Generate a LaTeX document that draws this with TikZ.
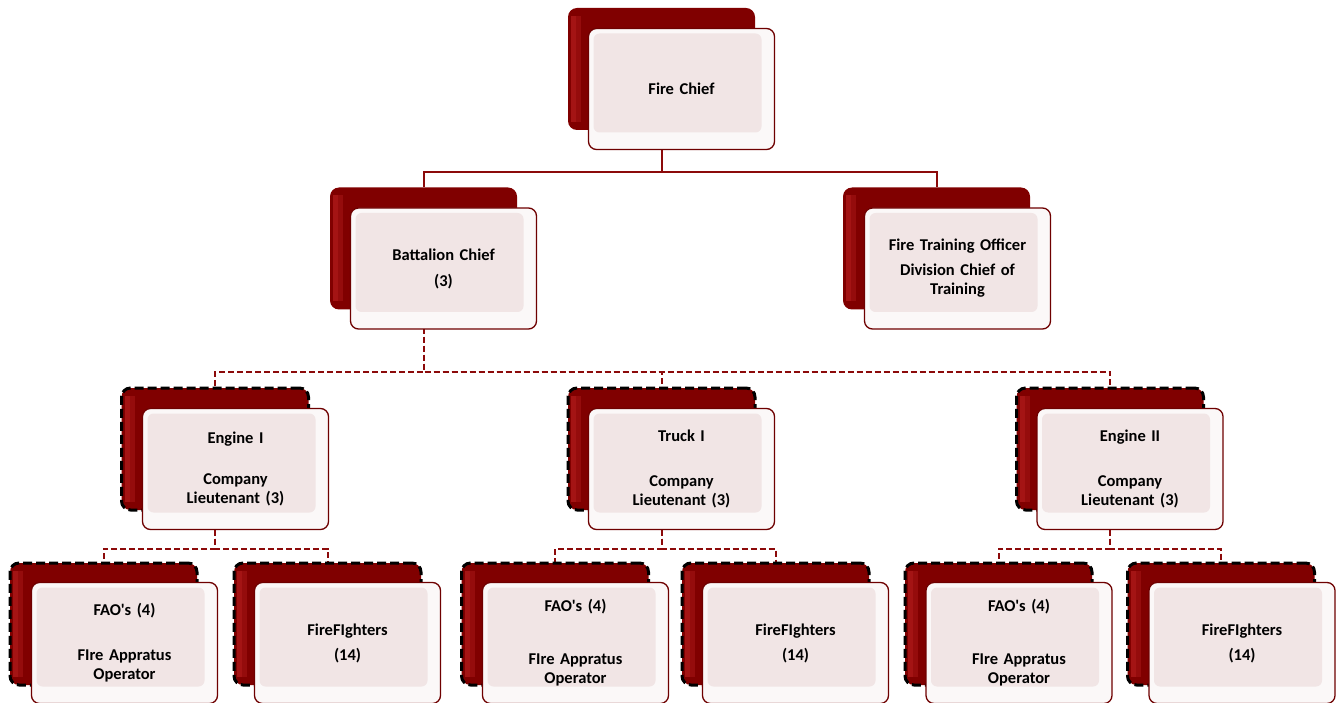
\documentclass[tikz,border=0pt]{standalone}
\usepackage{fontspec}
\setmainfont{Carlito}[Ligatures=TeXOff]
\usepackage{tikz}
\usetikzlibrary{backgrounds}
\definecolor{boxred}{RGB}{128, 0, 0}
\definecolor{boxglow}{RGB}{200, 40, 40}
\definecolor{rimred}{RGB}{110, 0, 0}
\definecolor{rimwhite}{RGB}{251, 248, 248}
\definecolor{facepink}{RGB}{241, 229, 229}
\definecolor{linkred}{RGB}{140, 10, 10}
\tikzset{every picture/.style={line width=0.75pt}}
\tikzset{
  backbox/.style={fill=boxred, rounded corners=9pt, minimum width=187pt, minimum height=122pt, inner sep=0pt,
    path picture={
      \fill[boxglow, opacity=0.3, sharp corners] ([xshift=3pt,yshift=8pt]path picture bounding box.south west) rectangle ([xshift=13pt,yshift=-8pt]path picture bounding box.north west);
      \fill[boxglow, opacity=0.3, sharp corners] ([xshift=3pt,yshift=8pt]path picture bounding box.south west) rectangle ([xshift=8pt,yshift=-8pt]path picture bounding box.north west);}},
  backdash/.style={backbox, draw=black, line width=3pt, dash pattern=on 9pt off 4pt},
  frontbox/.style={draw=rimred, line width=1.3pt, fill=rimwhite, rounded corners=8pt,
    minimum width=186pt, minimum height=121pt, inner sep=0pt, align=center, text width=178pt,
    font=\fontsize{16.5}{19}\selectfont\bfseries,
    path picture={\fill[facepink, rounded corners=6pt] ([xshift=5pt,yshift=-5pt]path picture bounding box.north west) rectangle ([xshift=-13pt,yshift=17pt]path picture bounding box.south east);}},
  link/.style={draw=linkred, line width=2pt},
  dlink/.style={link, dash pattern=on 6pt off 3pt}
}
\begin{document}
\begin{tikzpicture}[x=1pt,y=-1pt]
\useasboundingbox (0,0) rectangle (1344,703);

% Fire Chief
\node [backbox] (chiefB) at (661.5,69) {};
\node [frontbox] (chief) at (681.5,89) {Fire Chief};
% Battalion Chief
\node [backbox] (batB) at (423.5,248.5) {};
\node [frontbox] (bat) at (443.5,268.5) {Battalion Chief\\[7pt](3)};
% Training Officer
\node [backbox] (trainB) at (936.5,248.5) {};
\node [frontbox] (train) at (957.5,268.5) {Fire Training Officer\\[6pt]Division Chief of\\Training};

% Companies
\node [backdash] (engOneB) at (215,449) {};
\node [frontbox] (engOne) at (235.5,469) {Engine I\\[22pt]Company\\Lieutenant (3)};
\node [backdash] (truckB) at (661.5,449) {};
\node [frontbox] (truck) at (681.5,469) {Truck I\\[26pt]Company\\Lieutenant (3)};
\node [backdash] (engTwoB) at (1110,449) {};
\node [frontbox] (engTwo) at (1130,469) {Engine II\\[26pt]Company\\Lieutenant (3)};

% Crews
\node [backdash] (faoOneB) at (103.5,624) {};
\node [frontbox] (faoOne) at (124.5,643) {FAO's (4)\\[26pt]FIre Appratus\\Operator};
\node [backdash] (ffOneB) at (327.5,624) {};
\node [frontbox] (ffOne) at (347.5,643) {FireFIghters\\[6pt](14)};
\node [backdash] (faoTwoB) at (555,624) {};
\node [frontbox] (faoTwo) at (575.5,643) {FAO's (4)\\[34pt]FIre Appratus\\Operator};
\node [backdash] (ffTwoB) at (775.5,624) {};
\node [frontbox] (ffTwo) at (795.5,643) {FireFIghters\\[6pt](14)};
\node [backdash] (faoThreeB) at (998.5,624) {};
\node [frontbox] (faoThree) at (1019,643) {FAO's (4)\\[34pt]FIre Appratus\\Operator};
\node [backdash] (ffThreeB) at (1221,624) {};
\node [frontbox] (ffThree) at (1242,643) {FireFIghters\\[6pt](14)};

\begin{scope}[on background layer]
% solid links
\draw [link] (chiefB.south) -- ++(0,42) -| (batB.north);
\draw [link] (chiefB.south) -- ++(0,42) -| (trainB.north);
% dashed links
\draw [dlink] (batB.south) -- ++(0,62) -| (engOneB.north);
\draw [dlink] (batB.south) -- ++(0,62) -| (truckB.north);
\draw [dlink] (batB.south) -- ++(0,62) -| (engTwoB.north);
\draw [dlink] (engOneB.south) -- ++(0,37) -| (faoOneB.north);
\draw [dlink] (engOneB.south) -- ++(0,37) -| (ffOneB.north);
\draw [dlink] (truckB.south) -- ++(0,37) -| (faoTwoB.north);
\draw [dlink] (truckB.south) -- ++(0,37) -| (ffTwoB.north);
\draw [dlink] (engTwoB.south) -- ++(0,37) -| (faoThreeB.north);
\draw [dlink] (engTwoB.south) -- ++(0,37) -| (ffThreeB.north);
\end{scope}

\end{tikzpicture}
\end{document}
